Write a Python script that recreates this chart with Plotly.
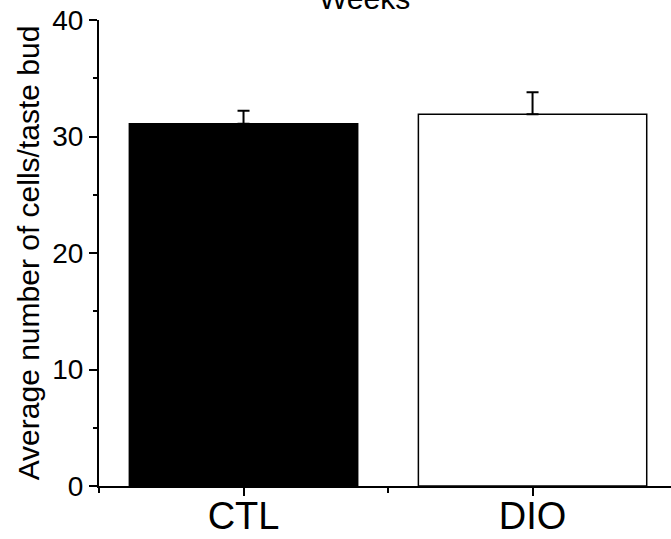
import plotly.graph_objects as go

categories = ["CTL", "DIO"]
means = [31.1, 31.9]
sem = [1.1, 1.9]
fills = ["black", "white"]
yticks = [0, 10, 20, 30, 40]

xpos = list(range(len(categories)))

fig = go.Figure()
fig.add_trace(go.Bar(
    x=xpos, y=means, width=0.79,
    marker=dict(color=fills, line=dict(color="black", width=1.5)),
    error_y=dict(type="data", symmetric=False, array=sem, arrayminus=[0] * len(sem),
                 color="black", thickness=2, width=6),
    showlegend=False,
))

font = "Liberation Sans, Arial, sans-serif"
fig.update_layout(
    width=671, height=539,
    margin=dict(l=99, r=0, t=20, b=53),
    paper_bgcolor="white", plot_bgcolor="white",
    font=dict(family=font, color="black"),
    annotations=[dict(text="Weeks", xref="paper", yref="paper", x=0.465, y=1,
                      yanchor="middle", yshift=22, showarrow=False,
                      font=dict(size=30, family=font, color="black"))],
)
fig.update_xaxes(
    range=[-0.5, 1.479], tickvals=xpos, ticktext=categories,
    showline=True, linecolor="black", linewidth=2, mirror=False,
    ticks="outside", ticklen=8, tickwidth=2, tickcolor="black",
    tickfont=dict(size=38, family=font), automargin=False,
    ticklabelstandoff=-13,
    showgrid=False, zeroline=False,
    minor=dict(tickvals=[-0.5, 0.5, 1.5], ticks="outside", ticklen=5, tickwidth=2, tickcolor="black"),
)
fig.update_yaxes(
    range=[0, 40], tickvals=yticks,
    showline=True, linecolor="black", linewidth=2,
    ticks="outside", ticklen=8, tickwidth=2, tickcolor="black",
    tickfont=dict(size=28, family=font), automargin=False,
    showgrid=False, zeroline=False,
    minor=dict(tickvals=[5, 15, 25, 35], ticks="outside", ticklen=4, tickwidth=2, tickcolor="black"),
    title=dict(text="Average number of cells/taste bud", font=dict(size=30, family=font), standoff=4),
)

fig.write_html("out.html")
